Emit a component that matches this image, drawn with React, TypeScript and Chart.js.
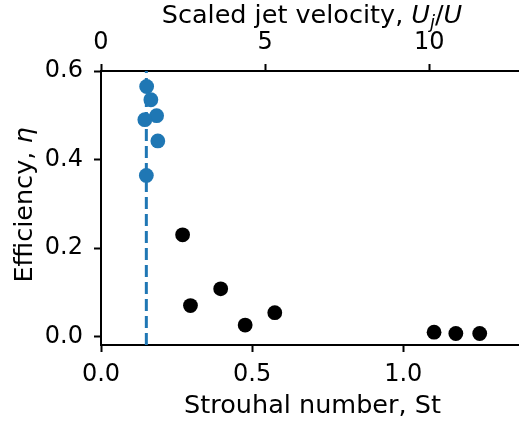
import React, { useEffect, useRef } from "react";
import { Chart, registerables } from "chart.js";

Chart.register(...registerables);

// Data
const blueSt = [0.151, 0.165, 0.184, 0.145, 0.188, 0.15];
const blueEta = [0.565, 0.535, 0.499, 0.49, 0.442, 0.364];
const blackSt = [0.27, 0.296, 0.396, 0.477, 0.575, 1.102, 1.174, 1.253];
const blackEta = [0.23, 0.07, 0.108, 0.026, 0.054, 0.01, 0.007, 0.007];
const stCritical = 0.15;

const xTicks = [0, 0.5, 1.0];
const yTicks = [0, 0.2, 0.4, 0.6];
const topTicks = [0, 5, 10];

const X_MIN = 0;
const X_MAX = 1.383;
const Y_MIN = -0.019;
const Y_MAX = 0.6;
const TOP_MIN = 0;
const TOP_MAX = 12.73;

const FONT = "DejaVu Sans";
const FS_TICK = 24;
const FS = 25.5;

const titlePlugin = {
  id: "mplTitles",
  afterDraw(chart: any) {
    const ctx = chart.ctx as CanvasRenderingContext2D;
    const normal = `${FS}px "${FONT}"`;
    const italic = `italic ${FS}px "${FONT}"`;
    const sub = `italic ${Math.round(FS * 0.7)}px "${FONT}"`;
    const drawRuns = (
      runs: { t: string; f: string; dy?: number }[],
      cx: number,
      baseline: number
    ) => {
      let total = 0;
      for (const r of runs) {
        ctx.font = r.f;
        total += ctx.measureText(r.t).width;
      }
      let x = cx - total / 2;
      for (const r of runs) {
        ctx.font = r.f;
        ctx.fillText(r.t, x, baseline + (r.dy || 0));
        x += ctx.measureText(r.t).width;
      }
    };
    ctx.save();
    ctx.fillStyle = "#000";
    ctx.textBaseline = "alphabetic";
    ctx.textAlign = "left";
    // top title
    drawRuns(
      [
        { t: "Scaled jet velocity, ", f: normal },
        { t: "U", f: italic },
        { t: "j", f: sub, dy: 5 },
        { t: "/", f: normal },
        { t: "U", f: italic },
      ],
      312,
      23
    );
    // bottom title
    drawRuns([{ t: "Strouhal number, St", f: normal }], 312.5, 413);
    // left title (rotated)
    ctx.translate(32, 205);
    ctx.rotate(-Math.PI / 2);
    drawRuns(
      [
        { t: "Efficiency, ", f: normal },
        { t: "η", f: italic },
      ],
      0,
      0
    );
    ctx.restore();
  },
};

export default function App() {
  const ref = useRef<HTMLCanvasElement | null>(null);
  useEffect(() => {
    document.body.style.margin = "0";
    const canvas = ref.current!;
    const tickFont = { family: FONT, size: FS_TICK };
    const axisCommon = (ticksArr: number[], fmt: (v: number) => string, pad: number) => ({
      type: "linear" as const,
      afterBuildTicks: (s: any) => {
        s.ticks = ticksArr.map((v) => ({ value: v }));
      },
      ticks: {
        font: tickFont,
        color: "#000",
        padding: pad,
        autoSkip: false,
        maxRotation: 0,
        callback: (v: any) => fmt(Number(v)),
      },
      grid: {
        drawOnChartArea: false,
        drawTicks: true,
        tickLength: 7,
        tickColor: "#000",
        tickWidth: 2,
      },
      border: { display: true, color: "#000", width: 2 },
    });
    const chart = new Chart(canvas, {
      type: "scatter",
      data: {
        datasets: [
          {
            type: "line",
            data: [
              { x: stCritical, y: Y_MIN },
              { x: stCritical, y: Y_MAX },
            ],
            borderColor: "#1f77b4",
            borderWidth: 3,
            borderDash: [12, 5],
            pointRadius: 0,
            fill: false,
            order: 3,
          } as any,
          {
            data: blueSt.map((x, i) => ({ x, y: blueEta[i] })),
            backgroundColor: "#1f77b4",
            borderWidth: 0,
            pointRadius: 7.4,
            order: 2,
          },
          {
            data: blackSt.map((x, i) => ({ x, y: blackEta[i] })),
            backgroundColor: "#000",
            borderWidth: 0,
            pointRadius: 7.4,
            order: 1,
          },
        ],
      },
      options: {
        responsive: false,
        animation: false,
        devicePixelRatio: 1,
        layout: { padding: 0, autoPadding: false },
        plugins: {
          legend: { display: false },
          tooltip: { enabled: false },
        },
        scales: {
          x: {
            ...axisCommon(xTicks, (v) => v.toFixed(1), 8),
            position: "bottom",
            min: X_MIN,
            max: X_MAX,
            afterFit: (s: any) => {
              s.height = 79;
              s.paddingLeft = 0;
              s.paddingRight = 0;
            },
          },
          x2: {
            ...axisCommon(topTicks, (v) => String(v), 7),
            position: "top",
            min: TOP_MIN,
            max: TOP_MAX,
            afterFit: (s: any) => {
              s.height = 71;
              s.paddingLeft = 0;
              s.paddingRight = 0;
            },
          },
          y: {
            ...axisCommon(yTicks, (v) => v.toFixed(1), 11),
            position: "left",
            min: Y_MIN,
            max: Y_MAX,
            afterFit: (s: any) => {
              s.width = 101;
              s.paddingTop = 0;
              s.paddingBottom = 0;
            },
          },
        },
      } as any,
      plugins: [titlePlugin],
    });
    return () => chart.destroy();
  }, []);
  return (
    <div style={{ position: "absolute", left: 0, top: 0, width: 519, height: 424, background: "#fff" }}>
      <canvas ref={ref} width={519} height={424} style={{ width: 519, height: 424, display: "block" }} />
    </div>
  );
}
